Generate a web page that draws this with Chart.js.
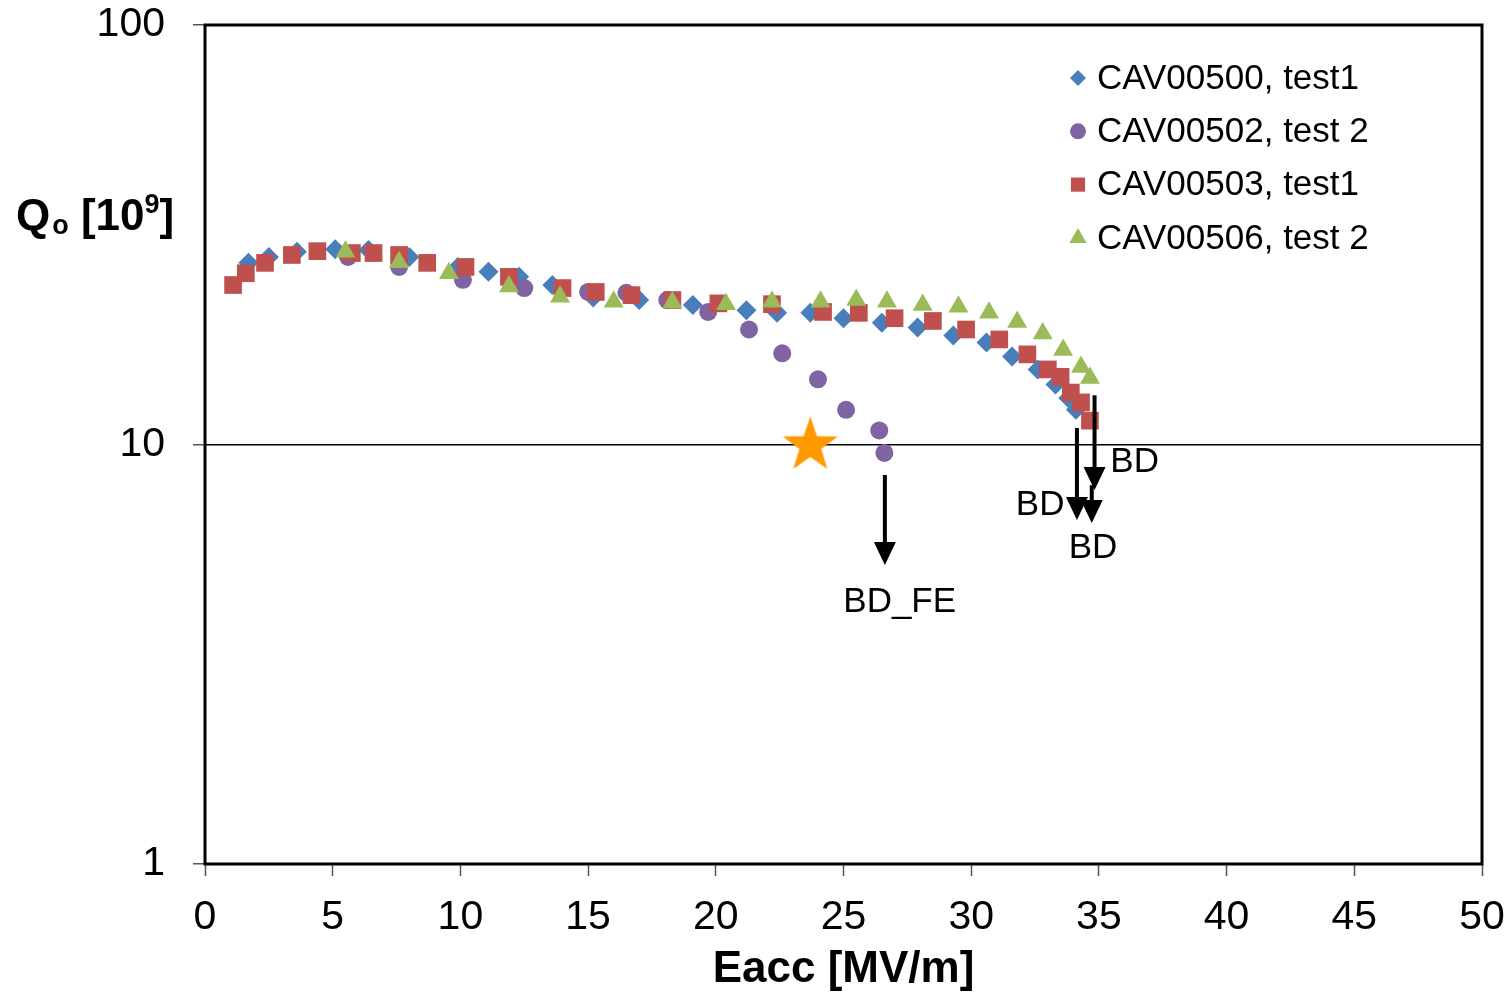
<!doctype html>
<html>

<head>
    <title>Qo vs Eacc</title>
    <script src="https://cdn.jsdelivr.net/npm/chart.js"></script>
    <style>
        body {
            margin: 0;
            background: #ffffff;
        }

        #box {
            position: relative;
            width: 1510px;
            height: 994px;
        }
    </style>
</head>

<body>
    <div id="box">
        <canvas id="chartQ"></canvas>
    </div>

    <script>
        // CAV00500, test1
        var e500X = [1.7, 2.5, 3.6, 5.1, 6.4, 8.0, 9.9, 11.1, 12.3, 13.6, 15.2, 17.0, 19.1, 21.2, 22.4, 23.7, 25.0, 26.5, 27.9, 29.3, 30.6, 31.6, 32.6, 33.3, 33.8, 34.1];
        var e500Q = [27.1, 28.0, 28.8, 29.2, 29.1, 28.0, 26.5, 25.8, 25.1, 24.0, 22.4, 22.1, 21.5, 20.9, 20.6, 20.6, 20.0, 19.5, 19.0, 18.2, 17.5, 16.2, 15.1, 13.9, 12.9, 12.1];
        // CAV00502, test 2
        var e502X = [5.6, 7.6, 10.1, 12.5, 15.0, 16.5, 18.1, 19.7, 21.3, 22.6, 24.0, 25.1, 26.4, 26.6];
        var e502Q = [28.0, 26.5, 24.7, 23.6, 23.1, 23.0, 22.1, 20.7, 18.8, 16.5, 14.3, 12.1, 10.8, 9.55];
        // CAV00503, test1
        var e503X = [1.1, 1.6, 2.35, 3.4, 4.4, 5.75, 6.6, 7.6, 8.7, 10.2, 11.9, 14.0, 15.3, 16.7, 18.3, 20.1, 22.2, 24.2, 25.6, 27.0, 28.5, 29.8, 31.1, 32.2, 33.0, 33.5, 33.9, 34.3, 34.65];
        var e503Q = [24.0, 25.6, 27.1, 28.3, 28.9, 28.6, 28.6, 28.3, 27.1, 26.5, 25.1, 23.6, 23.1, 22.7, 22.1, 21.7, 21.6, 20.7, 20.6, 20.0, 19.7, 18.8, 17.8, 16.4, 15.1, 14.5, 13.3, 12.6, 11.4];
        // CAV00506, test 2
        var e506X = [5.5, 7.6, 9.55, 11.9, 13.9, 16.0, 18.3, 20.4, 22.2, 24.1, 25.5, 26.7, 28.1, 29.5, 30.7, 31.8, 32.8, 33.6, 34.3, 34.65];
        var e506Q = [28.8, 27.2, 25.6, 23.8, 22.5, 21.9, 21.8, 21.6, 21.9, 21.9, 22.1, 21.9, 21.5, 21.3, 20.6, 19.6, 18.4, 16.8, 15.3, 14.4];

        // estrela
        var starX = [23.7];
        var starQ = [10];

        // setas de breakdown
        var arrowX = [26.62, 34.14, 34.83, 34.72];
        var arrowFrom = [8.46, 10.95, 13.1, 8.0];
        var arrowTo = [5.16, 6.61, 7.79, 6.50];
        var bdText = ['BD_FE', 'BD', 'BD', 'BD'];
        var bdX = [27.2, 32.7, 36.4, 34.77];
        var bdQ = [4.21, 7.17, 9.08, 5.67];

        var xTicks = [0, 5, 10, 15, 20, 25, 30, 35, 40, 45, 50];
        var yTicks = [1, 10, 100];

        var seriesNames = ['CAV00500, test1', 'CAV00502, test 2', 'CAV00503, test1', 'CAV00506, test 2'];
        var seriesColors = ['#4A7EBB', '#8064A2', '#C0504D', '#9BBB59'];
        var seriesStyles = ['rectRot', 'circle', 'rect', 'triangle'];

        var FONT = "'Liberation Sans', Arial, sans-serif";

        function pontos(xs, ys) {
            return xs.map(function (x, i) { return { x: x, y: ys[i] }; });
        }

        // estrela laranja como imagem de ponto
        function makeStar() {
            var c = document.createElement('canvas');
            c.width = 60;
            c.height = 60;
            var g = c.getContext('2d');
            g.fillStyle = '#FF9900';
            g.beginPath();
            for (var i = 0; i < 10; i++) {
                var r = i % 2 == 0 ? 29 : 11.5;
                var a = -Math.PI / 2 + i * Math.PI / 5;
                var px = 30 + r * Math.cos(a);
                var py = 31 + r * Math.sin(a);
                if (i == 0) g.moveTo(px, py); else g.lineTo(px, py);
            }
            g.closePath();
            g.fill();
            return c;
        }

        function drawMarker(ctx, style, color, x, y, r) {
            ctx.save();
            ctx.fillStyle = color;
            ctx.beginPath();
            if (style == 'rectRot') {
                ctx.moveTo(x, y - r); ctx.lineTo(x + r, y); ctx.lineTo(x, y + r); ctx.lineTo(x - r, y);
            } else if (style == 'circle') {
                ctx.arc(x, y, r, 0, Math.PI * 2);
            } else if (style == 'rect') {
                var s = r * Math.SQRT1_2;
                ctx.rect(x - s, y - s, 2 * s, 2 * s);
            } else {
                ctx.moveTo(x, y - r);
                ctx.lineTo(x + r * Math.sin(Math.PI * 2 / 3), y - r * Math.cos(Math.PI * 2 / 3));
                ctx.lineTo(x - r * Math.sin(Math.PI * 2 / 3), y - r * Math.cos(Math.PI * 2 / 3));
            }
            ctx.closePath();
            ctx.fill();
            ctx.restore();
        }

        var extras = {
            id: 'extras',
            beforeDatasetsDraw: function (chart) {
                var ctx = chart.ctx;
                var a = chart.chartArea;
                ctx.save();
                ctx.strokeStyle = '#000';
                ctx.lineWidth = 3;
                ctx.strokeRect(a.left, a.top, a.right - a.left, a.bottom - a.top);
                ctx.restore();
            },
            afterDatasetsDraw: function (chart) {
                var ctx = chart.ctx;
                var a = chart.chartArea;
                var sx = chart.scales.x;
                var sy = chart.scales.y;

                // setas
                ctx.save();
                ctx.strokeStyle = '#000';
                ctx.fillStyle = '#000';
                ctx.lineWidth = 4;
                for (var i = 0; i < arrowX.length; i++) {
                    var px = sx.getPixelForValue(arrowX[i]);
                    var y0 = sy.getPixelForValue(arrowFrom[i]);
                    var y1 = sy.getPixelForValue(arrowTo[i]);
                    ctx.beginPath();
                    ctx.moveTo(px, y0);
                    ctx.lineTo(px, y1 - 20);
                    ctx.stroke();
                    ctx.beginPath();
                    ctx.moveTo(px - 11, y1 - 23);
                    ctx.lineTo(px + 11, y1 - 23);
                    ctx.lineTo(px, y1);
                    ctx.closePath();
                    ctx.fill();
                }
                ctx.font = '35px ' + FONT;
                ctx.textAlign = 'center';
                ctx.textBaseline = 'middle';
                for (var j = 0; j < bdText.length; j++) {
                    ctx.fillText(bdText[j], sx.getPixelForValue(bdX[j]), sy.getPixelForValue(bdQ[j]));
                }
                ctx.restore();

                // legenda
                ctx.save();
                ctx.font = '35px ' + FONT;
                ctx.textAlign = 'left';
                ctx.textBaseline = 'middle';
                ctx.fillStyle = '#000';
                var lx = a.right - 404;
                var radii = [8, 8, 10, 10];
                for (var k = 0; k < seriesNames.length; k++) {
                    var ly = a.top + 53 + k * 53.3;
                    drawMarker(ctx, seriesStyles[k], seriesColors[k], lx, ly, radii[k]);
                    ctx.fillText(seriesNames[k], lx + 19, ly + 1);
                }
                ctx.restore();

                // titulo do eixo y: Qo [10^9]
                ctx.save();
                ctx.fillStyle = '#000';
                ctx.textBaseline = 'alphabetic';
                ctx.textAlign = 'left';
                var bx = 16;
                var by = a.top + 205;
                ctx.font = 'bold 44px ' + FONT;
                ctx.fillText('Q', bx, by);
                bx += ctx.measureText('Q').width + 2;
                ctx.font = 'bold 27px ' + FONT;
                ctx.fillText('o', bx, by + 4);
                bx += ctx.measureText('o').width;
                ctx.font = 'bold 44px ' + FONT;
                ctx.fillText(' [10', bx, by);
                bx += ctx.measureText(' [10').width;
                ctx.font = 'bold 27px ' + FONT;
                ctx.fillText('9', bx, by - 17);
                bx += ctx.measureText('9').width;
                ctx.font = 'bold 44px ' + FONT;
                ctx.fillText(']', bx, by);
                ctx.restore();
            }
        };

        var contexto = document.getElementById('chartQ');
        var grafico = new Chart(contexto, {
            type: 'scatter',
            data: {
                datasets: [
                    {
                        label: seriesNames[0], data: pontos(e500X, e500Q), order: 4,
                        pointStyle: 'rectRot', pointRadius: 10, backgroundColor: seriesColors[0], borderWidth: 0
                    },
                    {
                        label: seriesNames[1], data: pontos(e502X, e502Q), order: 3,
                        pointStyle: 'circle', pointRadius: 9, backgroundColor: seriesColors[1], borderWidth: 0
                    },
                    {
                        label: seriesNames[2], data: pontos(e503X, e503Q), order: 2,
                        pointStyle: 'rect', pointRadius: 12.5, backgroundColor: seriesColors[2], borderWidth: 0
                    },
                    {
                        label: seriesNames[3], data: pontos(e506X, e506Q), order: 1,
                        pointStyle: 'triangle', pointRadius: 11.5, backgroundColor: seriesColors[3], borderWidth: 0
                    },
                    {
                        label: 'star', data: pontos(starX, starQ), order: 0,
                        pointStyle: makeStar(), pointRadius: 30
                    }
                ]
            },
            options: {
                responsive: true,
                maintainAspectRatio: false,
                animation: false,
                layout: { autoPadding: false, padding: { left: 0, top: 25, right: 28, bottom: 0 } },
                plugins: {
                    legend: { display: false },
                    tooltip: { enabled: false }
                },
                scales: {
                    x: {
                        type: 'linear',
                        min: 0,
                        max: 50,
                        afterBuildTicks: function (s) { s.ticks = xTicks.map(function (v) { return { value: v }; }); },
                        afterFit: function (s) {
                            s.height = 130;
                            s.paddingLeft = 0;
                            s.paddingRight = 0;
                        },
                        border: { display: false },
                        grid: { drawOnChartArea: false, drawTicks: true, tickLength: 12, tickColor: '#555', tickWidth: 1.5 },
                        ticks: {
                            autoSkip: false, maxRotation: 0, padding: 21, color: '#000',
                            font: { family: FONT, size: 41, lineHeight: 1 }
                        },
                        title: {
                            display: true, text: 'Eacc [MV/m]', color: '#000',
                            font: { family: FONT, size: 44, weight: 'bold', lineHeight: 1 },
                            padding: { top: 0, bottom: 2 }
                        }
                    },
                    y: {
                        type: 'logarithmic',
                        min: 1,
                        max: 100,
                        afterBuildTicks: function (s) { s.ticks = yTicks.map(function (v) { return { value: v }; }); },
                        afterFit: function (s) {
                            s.width = 205;
                            s.paddingTop = 0;
                            s.paddingBottom = 0;
                        },
                        border: { display: false },
                        grid: {
                            drawTicks: true, tickLength: 12, tickColor: '#555', tickWidth: 1.5,
                            lineWidth: 1.5,
                            color: function (c) { return c.tick && c.tick.value == 10 ? '#000' : 'rgba(0,0,0,0)'; }
                        },
                        ticks: {
                            padding: 28, color: '#000',
                            font: { family: FONT, size: 41, lineHeight: 1 },
                            callback: function (v) { return String(v); }
                        }
                    }
                }
            },
            plugins: [extras]
        });
    </script>
</body>

</html>
